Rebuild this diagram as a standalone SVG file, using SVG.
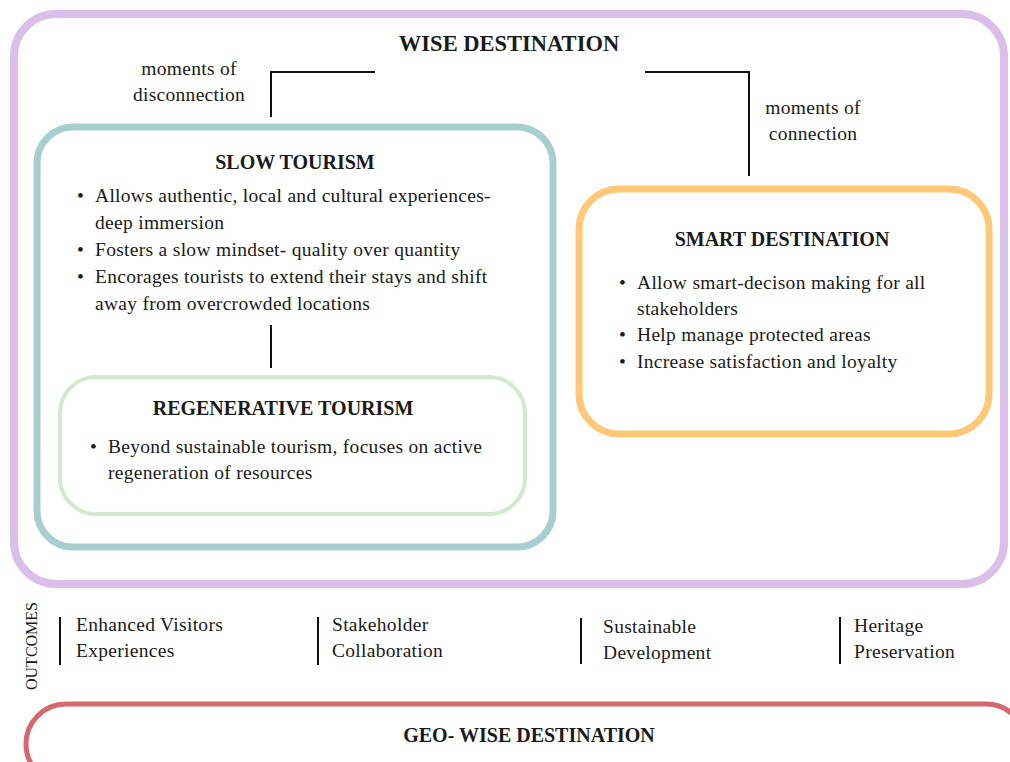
<svg xmlns="http://www.w3.org/2000/svg" width="1010" height="762" viewBox="0 0 1010 762">
<style>
.t{font-family:"Liberation Serif","Times New Roman",serif;fill:#1a1a1a}
.h{font-family:"Liberation Serif","Times New Roman",serif;font-weight:bold;fill:#1a1a1a;text-anchor:middle}
.b{font-size:19.5px;letter-spacing:0.3px}
.c{fill:none;stroke:#111;stroke-width:2}
</style>
<rect width="1010" height="762" fill="#fff"/>
<g id="wise-destination">
<rect x="14" y="14" width="990" height="570" rx="42" fill="none" stroke="#d9bfea" stroke-width="8"/>
<text class="h" x="509" y="51" font-size="22.5">WISE DESTINATION</text>
</g>
<g id="label-disconnection">
<text class="t b" x="189" y="75" text-anchor="middle">moments of</text>
<text class="t b" x="189" y="101" text-anchor="middle">disconnection</text>
</g>
<g id="label-connection">
<text class="t b" x="813" y="114" text-anchor="middle">moments of</text>
<text class="t b" x="813" y="140" text-anchor="middle">connection</text>
</g>
<g id="connectors">
<polyline class="c" points="375,72 271,72 271,117"/>
<polyline class="c" points="645,72 749,72 749,176"/>
<line class="c" x1="271" y1="325" x2="271" y2="368"/>
</g>
<g id="slow-tourism">
<rect x="37" y="127" width="516" height="420" rx="36" fill="none" stroke="#a8cfcf" stroke-width="7"/>
<text class="h" x="295" y="169" font-size="20">SLOW TOURISM</text>
<text class="t b" x="77" y="202">•</text>
<text class="t b" x="95" y="202">Allows authentic, local and cultural experiences-</text>
<text class="t b" x="95" y="229">deep immersion</text>
<text class="t b" x="77" y="256">•</text>
<text class="t b" x="95" y="256">Fosters a slow mindset- quality over quantity</text>
<text class="t b" x="77" y="283">•</text>
<text class="t b" x="95" y="283">Encorages tourists to extend their stays and shift</text>
<text class="t b" x="95" y="310">away from overcrowded locations</text>
</g>
<g id="regenerative-tourism">
<rect x="60" y="377" width="465" height="137" rx="36" fill="#fff" stroke="#d1e9cf" stroke-width="4"/>
<text class="h" x="283" y="415" font-size="20">REGENERATIVE TOURISM</text>
<text class="t b" x="90" y="453">•</text>
<text class="t b" x="108" y="453">Beyond sustainable tourism, focuses on active</text>
<text class="t b" x="108" y="479">regeneration of resources</text>
</g>
<g id="smart-destination">
<rect x="579" y="189" width="410" height="245" rx="40" fill="none" stroke="#ffc878" stroke-width="7"/>
<text class="h" x="782" y="246" font-size="20">SMART DESTINATION</text>
<text class="t b" x="619" y="289">•</text>
<text class="t b" x="637" y="289">Allow smart-decison making for all</text>
<text class="t b" x="637" y="315">stakeholders</text>
<text class="t b" x="619" y="341">•</text>
<text class="t b" x="637" y="341">Help manage protected areas</text>
<text class="t b" x="619" y="368">•</text>
<text class="t b" x="637" y="368">Increase satisfaction and loyalty</text>
</g>
<g id="outcomes">
<text class="t" x="0" y="0" font-size="16" text-anchor="middle" transform="translate(37,646) rotate(-90)">OUTCOMES</text>
<line class="c" x1="60" y1="617" x2="60" y2="665"/>
<text class="t b" x="76" y="631">Enhanced Visitors</text>
<text class="t b" x="76" y="657">Experiences</text>
<line class="c" x1="318" y1="617" x2="318" y2="665"/>
<text class="t b" x="332" y="631">Stakeholder</text>
<text class="t b" x="332" y="657">Collaboration</text>
<line class="c" x1="581" y1="618" x2="581" y2="664"/>
<text class="t b" x="603" y="633">Sustainable</text>
<text class="t b" x="603" y="659">Development</text>
<line class="c" x1="840" y1="617" x2="840" y2="664"/>
<text class="t b" x="854" y="632">Heritage</text>
<text class="t b" x="854" y="658">Preservation</text>
</g>
<g id="geo-wise-destination">
<rect x="26" y="704" width="1000" height="80" rx="40" fill="none" stroke="#d4686f" stroke-width="5"/>
<text class="h" x="529" y="742" font-size="20">GEO- WISE DESTINATION</text>
</g>
</svg>
